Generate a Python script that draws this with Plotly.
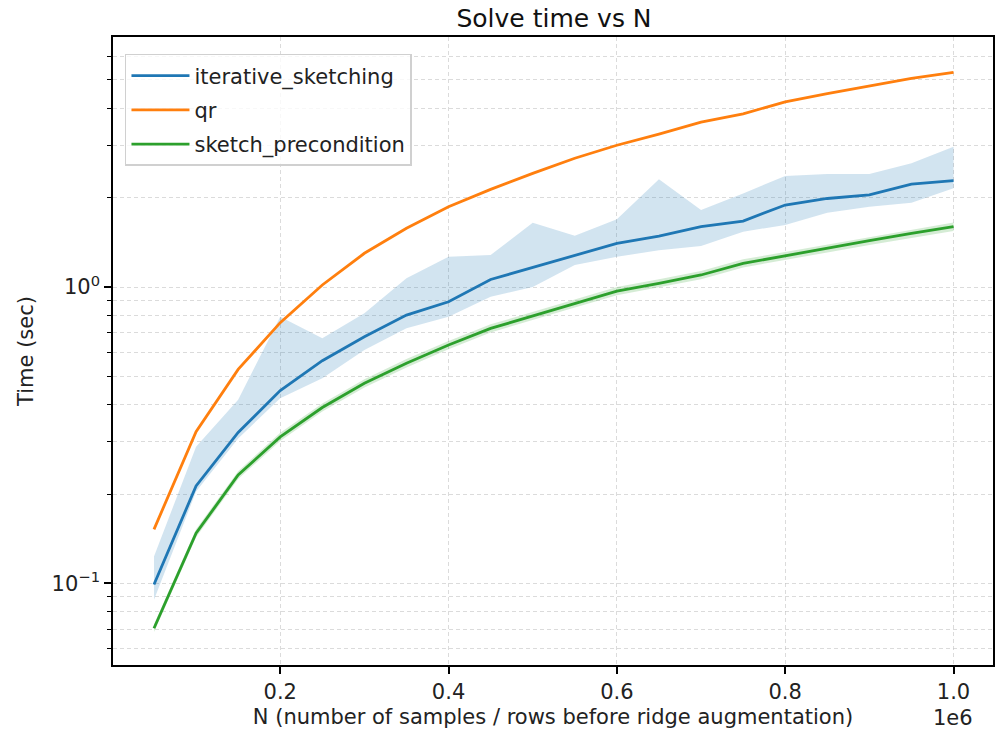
import plotly.graph_objects as go

N = [50000, 100000, 150000, 200000, 250000, 300000, 350000, 400000, 450000, 500000,
     550000, 600000, 650000, 700000, 750000, 800000, 850000, 900000, 950000, 1000000]

qr = [0.152, 0.325, 0.527, 0.758, 1.016, 1.30, 1.578, 1.866, 2.136, 2.42,
      2.72, 3.01, 3.28, 3.60, 3.84, 4.22, 4.50, 4.77, 5.06, 5.30]

iterative = [0.099, 0.213, 0.323, 0.447, 0.564, 0.679, 0.804, 0.892, 1.06, 1.165,
             1.275, 1.404, 1.486, 1.598, 1.67, 1.891, 1.99, 2.045, 2.226, 2.285]
iterative_hi = [0.123, 0.289, 0.416, 0.794, 0.671, 0.815, 1.07, 1.265, 1.282, 1.648,
                1.49, 1.692, 2.31, 1.82, 2.07, 2.37, 2.405, 2.405, 2.616, 2.975]
iterative_lo = [0.088, 0.204, 0.308, 0.421, 0.492, 0.613, 0.726, 0.794, 0.927, 1.0,
                1.186, 1.265, 1.33, 1.375, 1.537, 1.62, 1.78, 1.866, 1.925, 2.153]

sketch = [0.0705, 0.1475, 0.232, 0.312, 0.392, 0.473, 0.553, 0.637, 0.725, 0.798,
          0.881, 0.969, 1.029, 1.098, 1.202, 1.272, 1.351, 1.433, 1.518, 1.598]
sketch_hi = [0.0725, 0.152, 0.239, 0.322, 0.404, 0.488, 0.571, 0.657, 0.748, 0.823,
             0.909, 1.0, 1.062, 1.133, 1.24, 1.313, 1.394, 1.479, 1.567, 1.65]
sketch_lo = [0.0685, 0.143, 0.225, 0.302, 0.380, 0.458, 0.535, 0.617, 0.702, 0.773,
             0.853, 0.938, 0.996, 1.063, 1.164, 1.231, 1.308, 1.387, 1.469, 1.547]

x_tickvals = [200000, 400000, 600000, 800000, 1000000]
x_ticktext = ["0.2", "0.4", "0.6", "0.8", "1.0"]
y_tickvals = [0.1, 1.0]
y_ticktext = ["10<sup>\u22121</sup>", "10<sup>0</sup>"]
y_minor = [0.06, 0.07, 0.08, 0.09, 0.2, 0.3, 0.4, 0.5, 0.6, 0.7, 0.8, 0.9, 2, 3, 4, 5, 6]

BLUE = "#1f77b4"
ORANGE = "#ff7f0e"
GREEN = "#2ca02c"

fig = go.Figure()

fig.add_trace(go.Scatter(x=N + N[::-1], y=iterative_hi + iterative_lo[::-1], fill="toself",
                         fillcolor="rgba(31,119,180,0.2)", line=dict(width=0),
                         hoverinfo="skip", showlegend=False, mode="lines"))
fig.add_trace(go.Scatter(x=N + N[::-1], y=sketch_hi + sketch_lo[::-1], fill="toself",
                         fillcolor="rgba(44,160,44,0.2)", line=dict(width=0),
                         hoverinfo="skip", showlegend=False, mode="lines"))

fig.add_trace(go.Scatter(x=N, y=iterative, mode="lines", name="iterative_sketching",
                         legendgroup="a", line=dict(color=BLUE, width=2.8)))
fig.add_trace(go.Scatter(x=N, y=qr, mode="lines", name="qr",
                         legendgroup="b", line=dict(color=ORANGE, width=2.8)))
fig.add_trace(go.Scatter(x=N, y=sketch, mode="lines", name="sketch_precondition",
                         legendgroup="c", line=dict(color=GREEN, width=2.8)))

grid_col = "rgba(190,190,190,0.55)"
FS = 21

fig.update_layout(
    width=999, height=739,
    margin=dict(l=113, r=4, t=37, b=74),
    paper_bgcolor="white", plot_bgcolor="white",
    font=dict(family="DejaVu Sans", size=FS, color="#222"),
    title=dict(text="Solve time vs N", x=(113 + 995) / 2 / 999, xanchor="center",
               y=1 - 18 / 739, yanchor="middle", font=dict(size=25, color="#111")),
    legend=dict(x=0.0136, y=0.973, xanchor="left", yanchor="top",
                bgcolor="rgba(255,255,255,0.8)", bordercolor="#d0d0d0", borderwidth=1.5,
                font=dict(size=FS, color="#222"), tracegroupgap=4, itemwidth=58),
    xaxis=dict(
        range=[1300, 1046900],
        tickmode="array", tickvals=x_tickvals, ticktext=x_ticktext,
        showline=True, linecolor="black", linewidth=1.6, mirror=True,
        ticks="outside", ticklen=7, tickwidth=1.5, tickcolor="black",
        showgrid=True, gridcolor=grid_col, griddash="4px,3px", gridwidth=1,
        zeroline=False,
        title=dict(text="N (number of samples / rows before ridge augmentation)",
                   font=dict(size=FS), standoff=6),
        tickfont=dict(size=FS),
    ),
    yaxis=dict(
        type="log",
        range=[-1.276, 0.844],
        tickmode="array", tickvals=y_tickvals, ticktext=y_ticktext,
        showline=True, linecolor="black", linewidth=1.6, mirror=True,
        ticks="outside", ticklen=7, tickwidth=1.5, tickcolor="black",
        showgrid=True, gridcolor=grid_col, griddash="4px,3px", gridwidth=1,
        zeroline=False,
        title=dict(text="Time (sec)", font=dict(size=FS), standoff=12),
        tickfont=dict(size=FS),
        minor=dict(tickmode="array", tickvals=y_minor, ticks="outside", ticklen=4,
                   tickwidth=1.2, tickcolor="black", showgrid=True, gridcolor=grid_col,
                   griddash="4px,3px"),
    ),
    annotations=[dict(text="1e6", xref="paper", yref="paper", x=(955 - 113) / 882,
                      y=-(718 - 665) / 628, xanchor="center", yanchor="middle",
                      showarrow=False, font=dict(size=FS, color="#222"))],
)

fig.write_html("out.html")
